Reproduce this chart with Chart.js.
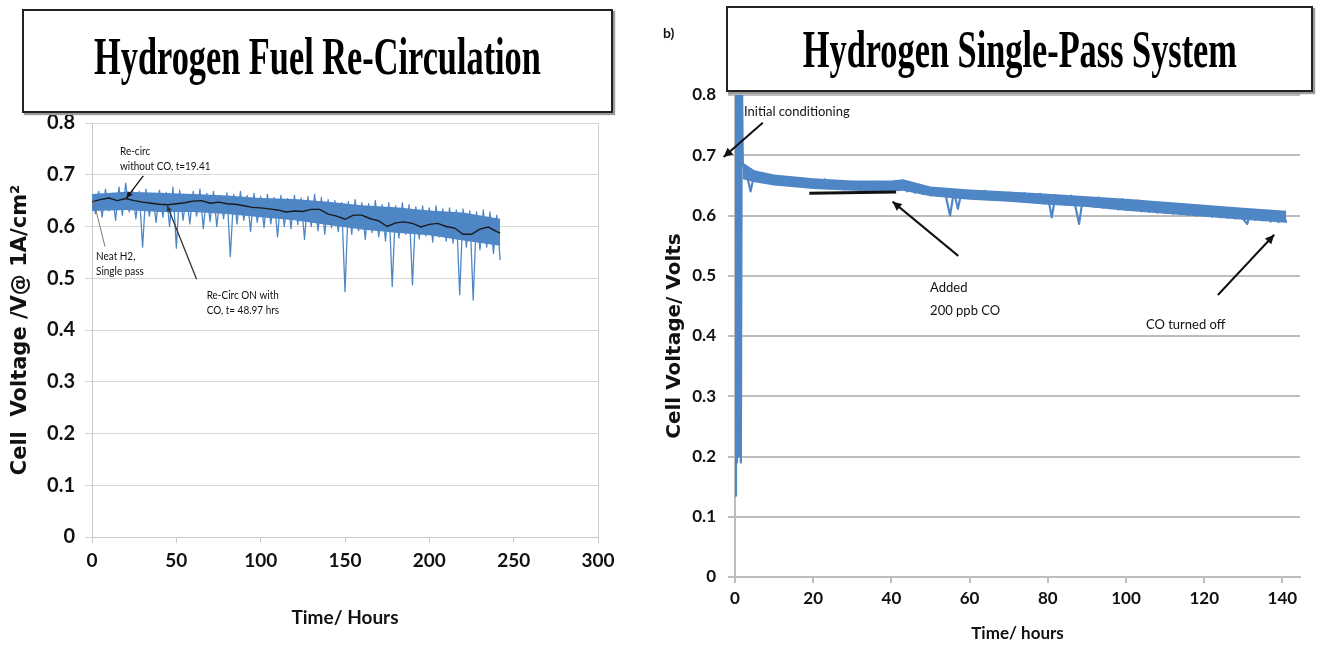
<!DOCTYPE html>
<html>
<head>
<meta charset="utf-8">
<script src="https://cdn.jsdelivr.net/npm/chart.js@4.4.1/dist/chart.umd.min.js"></script>
<style>
  body { margin: 0; background: #fff; }
  #wrap { position: relative; width: 1318px; height: 648px; overflow: hidden; }
  canvas { position: absolute; top: 0; }
  #cLeft { left: 0; }
  #cRight { left: 640px; }
  .tbox {
    position: absolute; z-index: 2; background: #fff; box-sizing: border-box;
    border: 2px solid #222; box-shadow: 2px 2px 1px #9a9a9a;
    display: flex; align-items: center; justify-content: center; overflow: hidden;
  }
  .tbox span {
    display: inline-block; white-space: nowrap; color: #000;
    font-family: "Liberation Serif", "Times New Roman", serif; font-weight: bold;
    font-size: 52px; transform: scaleX(0.66);
  }
  #boxLeft { left: 22px; top: 9px; width: 591px; height: 104px; padding-bottom: 9px; }
  #boxRight { left: 726px; top: 6px; width: 587px; height: 86px; }
  #panelTag { position: absolute; left: 663px; top: 24px; font: bold 14px Lato, sans-serif; color: #111; }
</style>
</head>
<body>
<div id="wrap">
  <canvas id="cLeft" width="640" height="648"></canvas>
  <canvas id="cRight" width="678" height="648"></canvas>
  <div class="tbox" id="boxLeft"><span>Hydrogen Fuel Re-Circulation</span></div>
  <div class="tbox" id="boxRight"><span>Hydrogen Single-Pass System</span></div>
  <div id="panelTag">b)</div>
</div>
<script>
const leftStep = 2;
const leftVolts = [
  0.655,0.625,0.668,0.618,0.672,0.630,0.664,0.612,0.676,0.622,
  0.684,0.628,0.670,0.615,0.668,0.560,0.672,0.620,0.662,0.608,
  0.670,0.618,0.666,0.600,0.676,0.558,0.670,0.612,0.662,0.605,
  0.668,0.620,0.672,0.596,0.664,0.610,0.668,0.600,0.660,0.615,
  0.665,0.542,0.662,0.605,0.668,0.612,0.660,0.590,0.664,0.608,
  0.658,0.598,0.662,0.605,0.656,0.580,0.660,0.600,0.654,0.596,
  0.660,0.604,0.655,0.575,0.658,0.600,0.662,0.592,0.656,0.585,
  0.652,0.598,0.650,0.590,0.646,0.474,0.648,0.585,0.652,0.592,
  0.646,0.575,0.644,0.588,0.650,0.580,0.642,0.572,0.646,0.484,
  0.640,0.578,0.646,0.585,0.642,0.487,0.638,0.576,0.640,0.582,
  0.636,0.570,0.640,0.580,0.634,0.572,0.636,0.568,0.632,0.468,
  0.634,0.560,0.630,0.458,0.628,0.555,0.632,0.560,0.628,0.548,
  0.622,0.535
];
// dense core of the noise band
const leftBandHours = [0, 20, 40, 60, 80, 100, 120, 140, 160, 180, 200, 220, 242];
const leftBandHigh  = [0.663,0.667,0.665,0.663,0.660,0.655,0.653,0.648,0.641,0.637,0.631,0.627,0.615];
const leftBandLow   = [0.630,0.632,0.628,0.628,0.624,0.618,0.612,0.603,0.594,0.588,0.583,0.573,0.563];
// moving average (black line)
const leftAvgHours = [0,5,10,15,20,25,30,35,40,45,50,55,60,65,70,75,80,85,90,95,100,105,110,115,120,
  125,130,135,140,145,150,155,160,165,170,175,180,185,190,195,200,205,210,215,220,225,230,235,240,242];
const leftAvgVolts = [0.648,0.652,0.655,0.650,0.654,0.650,0.647,0.645,0.643,0.642,0.644,0.646,0.649,
  0.650,0.645,0.647,0.644,0.643,0.640,0.637,0.636,0.634,0.632,0.628,0.630,0.629,0.633,0.633,0.624,
  0.620,0.614,0.622,0.622,0.615,0.611,0.600,0.607,0.609,0.606,0.599,0.604,0.606,0.600,0.597,0.585,
  0.585,0.595,0.599,0.590,0.587];
const leftXTicks = [0, 50, 100, 150, 200, 250, 300];

// ---- right panel: single-pass run
const condHours = [0, 0.25, 0.5, 0.75, 1.0, 1.25, 1.5, 1.75];
const condVolts = [0.135, 0.85, 0.19, 0.85, 0.20, 0.85, 0.19, 0.85];
const rightStart = 2;   // hourly read-off from t=2
const rightVolts = [
  0.686,0.668,0.640,0.672,0.662,0.670,0.658,0.666,0.656,0.664,
  0.654,0.662,0.655,0.661,0.650,0.662,0.648,0.658,0.650,0.659,
  0.646,0.660,0.645,0.656,0.644,0.657,0.643,0.655,0.644,0.654,
  0.642,0.655,0.641,0.653,0.643,0.656,0.642,0.654,0.644,0.657,
  0.648,0.658,0.640,0.650,0.638,0.648,0.636,0.646,0.634,0.645,
  0.633,0.644,0.630,0.600,0.640,0.611,0.641,0.630,0.640,0.629,
  0.639,0.628,0.641,0.627,0.638,0.628,0.637,0.626,0.638,0.625,
  0.636,0.624,0.637,0.623,0.635,0.622,0.636,0.620,0.633,0.597,
  0.634,0.619,0.632,0.618,0.633,0.617,0.586,0.630,0.616,0.629,
  0.614,0.630,0.613,0.627,0.612,0.626,0.610,0.627,0.609,0.624,
  0.610,0.625,0.607,0.622,0.606,0.621,0.605,0.620,0.604,0.619,
  0.603,0.618,0.602,0.618,0.601,0.616,0.600,0.615,0.600,0.614,
  0.598,0.613,0.597,0.612,0.596,0.611,0.595,0.610,0.594,0.586,
  0.608,0.593,0.607,0.592,0.606,0.590,0.607,0.589,0.605,0.588
];
const rightBandHours = [2, 5, 10, 20, 30, 40, 43, 50, 60, 70, 80, 90, 100, 110, 120, 130, 141];
const rightBandHigh  = [0.688,0.675,0.668,0.662,0.658,0.658,0.660,0.648,0.643,0.640,0.636,0.632,0.628,0.623,0.618,0.613,0.608];
const rightBandLow   = [0.660,0.655,0.650,0.644,0.641,0.640,0.641,0.632,0.626,0.623,0.618,0.614,0.608,0.603,0.598,0.593,0.588];
const rightXTicks = [0, 20, 40, 60, 80, 100, 120, 140];
const rightXMax = 144.5;
const voltTicks = [0, 0.1, 0.2, 0.3, 0.4, 0.5, 0.6, 0.7, 0.8];

// annotations, in data units
const leftNotes = [
  { text: "Re-circ", at: [16.6, 0.746] },
  { text: "without CO, t=19.41", at: [16.6, 0.716] },
  { text: "Neat H2,", at: [2.4, 0.543] },
  { text: "Single pass", at: [2.4, 0.513] },
  { text: "Re-Circ ON with", at: [68, 0.468] },
  { text: "CO, t= 48.97 hrs", at: [68, 0.439] },
];
const leftArrows = [
  { from: [30.4, 0.698], to: [20.4, 0.655], head: 7, color: "#111", width: 1.3 },
  { from: [7.7, 0.561], to: [0.8, 0.652], head: 0, color: "#777", width: 1 },
  { from: [62, 0.498], to: [44.6, 0.640], head: 6, color: "#333", width: 1.3 },
];
const rightNotes = [
  { text: "Initial conditioning", at: [2.3, 0.772] },
  { text: "Added", at: [49.9, 0.48] },
  { text: "200 ppb CO", at: [49.9, 0.442] },
  { text: "CO turned off", at: [105.1, 0.419] },
];
const rightArrows = [
  { from: [7.1, 0.754], to: [-2.9, 0.697], head: 10, color: "#111", width: 2 },
  { from: [19, 0.637], to: [41.2, 0.639], head: 0, color: "#111", width: 3 },
  { from: [57.1, 0.533], to: [40.3, 0.623], head: 10, color: "#111", width: 2 },
  { from: [123.5, 0.468], to: [137.9, 0.568], head: 10, color: "#111", width: 2 },
];

const BLUE = "#4F86C6";
const FONT = "Lato, 'DejaVu Sans', sans-serif";
const WIDE = "'DejaVu Sans', sans-serif";

function xy(xs, ys) { return xs.map((x, i) => ({ x, y: ys[i] })); }

function notesPlugin(notes, arrows, noteFont, squeeze, rightEdge) {
  return {
    id: "notes",
    afterDatasetsDraw(chart) {
      const { ctx, chartArea, scales: { x, y } } = chart;
      ctx.save();
      if (rightEdge) {
        ctx.strokeStyle = rightEdge;
        ctx.lineWidth = 1;
        ctx.beginPath();
        ctx.moveTo(chartArea.right + 0.5, chartArea.top);
        ctx.lineTo(chartArea.right + 0.5, chartArea.bottom);
        ctx.stroke();
      }
      for (const a of arrows) {
        const x1 = x.getPixelForValue(a.from[0]), y1 = y.getPixelForValue(a.from[1]);
        const x2 = x.getPixelForValue(a.to[0]), y2 = y.getPixelForValue(a.to[1]);
        ctx.strokeStyle = a.color;
        ctx.lineWidth = a.width;
        ctx.beginPath();
        ctx.moveTo(x1, y1);
        ctx.lineTo(x2, y2);
        ctx.stroke();
        if (a.head) {
          const ang = Math.atan2(y2 - y1, x2 - x1);
          ctx.fillStyle = a.color;
          ctx.beginPath();
          ctx.moveTo(x2, y2);
          ctx.lineTo(x2 - a.head * Math.cos(ang - 0.45), y2 - a.head * Math.sin(ang - 0.45));
          ctx.lineTo(x2 - a.head * Math.cos(ang + 0.45), y2 - a.head * Math.sin(ang + 0.45));
          ctx.closePath();
          ctx.fill();
        }
      }
      ctx.font = noteFont;
      ctx.fillStyle = "#111";
      ctx.textAlign = "left";
      ctx.textBaseline = "middle";
      for (const n of notes) {
        ctx.save();
        ctx.translate(x.getPixelForValue(n.at[0]), y.getPixelForValue(n.at[1]));
        ctx.scale(squeeze, 1);
        ctx.fillText(n.text, 0, 0);
        ctx.restore();
      }
      ctx.restore();
    }
  };
}

function setTicks(values) {
  return scale => { scale.ticks = values.map(v => ({ value: v })); };
}

// left chart
new Chart(document.getElementById("cLeft"), {
  type: "line",
  data: {
    datasets: [
      { data: xy(leftAvgHours, leftAvgVolts), borderColor: "#1a1a1a", borderWidth: 1.4, pointRadius: 0, order: 0 },
      { data: leftVolts.map((v, i) => ({ x: i * leftStep, y: v })),
        borderColor: BLUE, borderWidth: 1.3, pointRadius: 0, borderJoinStyle: "round", order: 1 },
      { data: xy(leftBandHours, leftBandHigh), borderWidth: 0, pointRadius: 0,
        backgroundColor: BLUE, fill: "+1", order: 2 },
      { data: xy(leftBandHours, leftBandLow), borderWidth: 0, pointRadius: 0, order: 2 }
    ]
  },
  options: {
    responsive: false, animation: false, devicePixelRatio: 1,
    layout: { padding: { left: 0, right: 42, top: 123, bottom: 0 } },
    plugins: { legend: { display: false }, tooltip: { enabled: false } },
    scales: {
      x: {
        type: "linear", min: 0, max: 300,
        afterBuildTicks: setTicks(leftXTicks),
        afterFit: s => { s.height = 111; },
        ticks: { color: "#111", padding: 6, font: { family: FONT, size: 19, weight: "bold" } },
        grid: { drawOnChartArea: false, drawTicks: true, tickLength: 6, color: "#c8c8c8" },
        border: { color: "#c8c8c8" },
        title: { display: true, text: "Time/ Hours", color: "#111",
          font: { family: FONT, size: 19, weight: "bold" }, padding: { top: 0, bottom: 19 } }
      },
      y: {
        min: 0, max: 0.8,
        afterBuildTicks: setTicks(voltTicks),
        afterFit: s => { s.width = 92; },
        ticks: { color: "#111", padding: 10, font: { family: FONT, size: 20, weight: "bold" } },
        grid: { color: "#d6d6d6", tickLength: 7 },
        border: { color: "#c8c8c8" },
        title: { display: true, text: "Cell  Voltage /V@ 1A/cm²", color: "#111",
          font: { family: WIDE, size: 21, weight: "bold" }, padding: { top: 8, bottom: 0 } }
      }
    }
  },
  plugins: [notesPlugin(leftNotes, leftArrows, "12px " + FONT, 0.83, "#d0d0d0")]
});

// right chart
new Chart(document.getElementById("cRight"), {
  type: "line",
  data: {
    datasets: [
      { data: xy(condHours, condVolts).concat(rightVolts.map((v, i) => ({ x: rightStart + i, y: v }))),
        borderColor: BLUE, borderWidth: 2.2, pointRadius: 0, borderJoinStyle: "round", order: 0 },
      { data: xy(rightBandHours, rightBandHigh), borderWidth: 0, pointRadius: 0,
        backgroundColor: BLUE, fill: "+1", order: 1 },
      { data: xy(rightBandHours, rightBandLow), borderWidth: 0, pointRadius: 0, order: 1 }
    ]
  },
  options: {
    responsive: false, animation: false, devicePixelRatio: 1,
    layout: { padding: { left: 0, right: 18, top: 95, bottom: 0 } },
    plugins: { legend: { display: false }, tooltip: { enabled: false } },
    scales: {
      x: {
        type: "linear", min: 0, max: rightXMax,
        afterBuildTicks: setTicks(rightXTicks),
        afterFit: s => { s.height = 71; },
        ticks: { color: "#111", padding: 5, font: { family: FONT, size: 17, weight: "bold" } },
        grid: { drawOnChartArea: false, drawTicks: true, tickLength: 6, color: "#bdbdbd", lineWidth: 2 },
        border: { color: "#bdbdbd", width: 2 },
        title: { display: true, text: "Time/ hours", color: "#111",
          font: { family: FONT, size: 17, weight: "bold" }, padding: { top: 0, bottom: 4 } }
      },
      y: {
        min: 0, max: 0.8,
        afterBuildTicks: setTicks(voltTicks),
        afterFit: s => { s.width = 95; },
        ticks: { color: "#111", padding: 12, font: { family: FONT, size: 17, weight: "bold" } },
        grid: { color: "#bdbdbd", lineWidth: 2, tickLength: 7 },
        border: { color: "#bdbdbd", width: 2 },
        title: { display: true, text: "Cell Voltage/ Volts", color: "#111",
          font: { family: WIDE, size: 20, weight: "bold" }, padding: { top: 23, bottom: 0 } }
      }
    }
  },
  plugins: [notesPlugin(rightNotes, rightArrows, "13px " + FONT, 1, null)]
});
</script>
</body>
</html>
